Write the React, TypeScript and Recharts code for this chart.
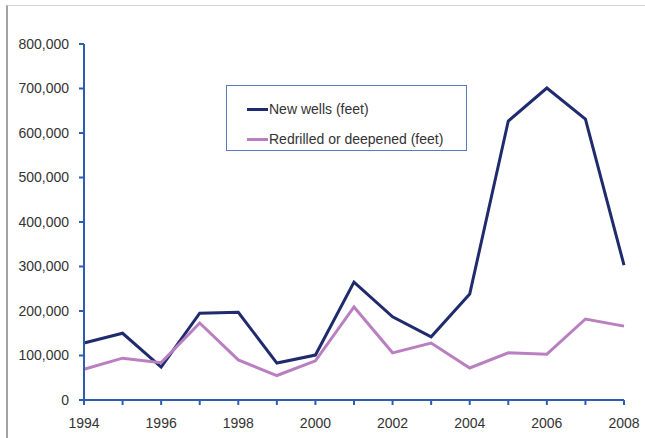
import { LineChart, Line, XAxis, YAxis, Legend } from "recharts";

const years = [1994, 1995, 1996, 1997, 1998, 1999, 2000, 2001, 2002, 2003, 2004, 2005, 2006, 2007, 2008];
const newWells = [128000, 150000, 74000, 195000, 197000, 83000, 101000, 265000, 187000, 142000, 238000, 627000, 701000, 631000, 303000];
const redrilled = [69000, 94000, 84000, 173000, 90000, 55000, 88000, 209000, 106000, 128000, 72000, 106000, 103000, 182000, 166000];
const yTicks = [0, 100000, 200000, 300000, 400000, 500000, 600000, 700000, 800000];

const data = years.map((year, i) => ({ year, newWells: newWells[i], redrilled: redrilled[i] }));

const font = "'Liberation Sans', Arial, sans-serif";
const axisColor = "#2d5db3";
const navy = "#1f2b6c";
const purple = "#b97fc1";

const LegendBox = () => {
  const items = [
    { label: "New wells (feet)", color: navy },
    { label: "Redrilled or deepened (feet)", color: purple },
  ];
  return (
    <div
      style={{
        boxSizing: "border-box",
        width: 241,
        height: 66,
        border: "1.5px solid #5b78c2",
        background: "#fff",
        paddingTop: 8,
        fontFamily: font,
        fontSize: 14,
        color: "#333",
      }}
    >
      {items.map((it) => (
        <div key={it.label} style={{ display: "flex", alignItems: "center", height: 30, paddingLeft: 20 }}>
          <span style={{ display: "inline-block", width: 21, height: 3, background: it.color, marginRight: 1 }} />
          <span>{it.label}</span>
        </div>
      ))}
    </div>
  );
};

export default function App() {
  return (
    <div style={{ position: "absolute", left: 0, top: 0, width: 645, height: 438, background: "#fff" }}>
      <div
        style={{
          position: "absolute",
          left: 6,
          top: 5,
          width: 639,
          height: 433,
          borderTop: "1px solid #d2d2d2",
          borderLeft: "2px solid #a3a3a3",
          boxSizing: "border-box",
        }}
      />
      <LineChart
        width={645}
        height={438}
        data={data}
        margin={{ top: 44, right: 21, bottom: 8, left: 0 }}
        style={{ position: "absolute", left: 0, top: 0 }}
      >
        <XAxis
          dataKey="year"
          type="number"
          domain={[1994, 2008]}
          ticks={years}
          interval={0}
          tickFormatter={(v: number) => (v % 2 === 0 ? String(v) : "")}
          height={30}
          stroke={axisColor}
          strokeWidth={2}
          tickSize={5}
          tickMargin={13}
          tick={{ fill: "#333", fontSize: 14, fontFamily: font }}
        />
        <YAxis
          domain={[0, 800000]}
          ticks={yTicks}
          width={84}
          stroke={axisColor}
          strokeWidth={2}
          tickSize={5}
          tickMargin={10}
          tickFormatter={(v: number) => v.toLocaleString("en-US")}
          tick={{ fill: "#333", fontSize: 14, fontFamily: font }}
        />
        <Legend
          layout="vertical"
          align="center"
          verticalAlign="middle"
          content={() => <LegendBox />}
          wrapperStyle={{ position: "absolute", left: 226, top: 85, width: 241, height: 66 }}
        />
        <Line
          dataKey="newWells"
          name="New wells (feet)"
          stroke={navy}
          strokeWidth={3}
          dot={false}
          type="linear"
          isAnimationActive={false}
        />
        <Line
          dataKey="redrilled"
          name="Redrilled or deepened (feet)"
          stroke={purple}
          strokeWidth={3}
          dot={false}
          type="linear"
          isAnimationActive={false}
        />
      </LineChart>
    </div>
  );
}
